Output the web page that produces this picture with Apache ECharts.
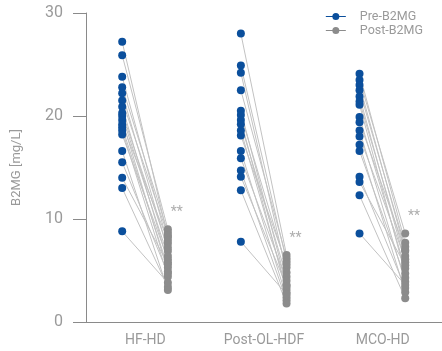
<!DOCTYPE html>
<html><head><meta charset="utf-8">
<script src="https://cdn.jsdelivr.net/npm/echarts@6/dist/echarts.min.js"></script>
<style>html,body{margin:0;padding:0;background:#fff}#c{width:442px;height:351px}</style>
</head><body><div id="c"></div>
<script>
const categories = ['HF-HD', 'Post-OL-HDF', 'MCO-HD'];
const yTicks = [0, 10, 20, 30];
const hfPre   = [27.2, 25.9, 23.8, 22.8, 22.2, 21.5, 20.9, 20.3, 20.0, 19.6, 19.2, 18.9, 18.6, 18.2, 16.6, 15.5, 14.0, 13.0, 8.8];
const hfPost  = [8.2, 9.0, 7.6, 8.7, 6.9, 8.4, 5.8, 7.2, 6.4, 4.9, 7.9, 5.3, 4.4, 6.1, 3.1, 4.7, 5.6, 3.4, 3.8];
const olPre   = [28.0, 24.9, 24.2, 22.5, 20.5, 20.1, 19.6, 19.2, 18.6, 18.1, 16.6, 15.9, 14.7, 14.1, 12.8, 7.8];
const olPost  = [6.5, 5.9, 4.8, 6.2, 3.6, 5.3, 2.9, 4.4, 3.2, 5.6, 2.4, 4.0, 2.1, 3.5, 1.8, 2.7];
const mcoPre  = [24.1, 23.5, 23.0, 22.5, 21.9, 21.4, 21.1, 19.9, 19.4, 18.6, 18.0, 17.2, 16.6, 14.1, 13.6, 12.3, 8.6];
const mcoPost = [7.7, 8.6, 6.9, 7.3, 5.8, 6.4, 4.7, 5.2, 7.0, 3.9, 6.1, 2.9, 4.3, 3.3, 5.5, 2.3, 3.6];
const significance = ['**', '**', '**'];

const groups = [[hfPre, hfPost], [olPre, olPost], [mcoPre, mcoPost]];
const PRE_OFF = -0.195, POST_OFF = 0.19;
const BLUE = '#0b4f9c', GRAY = '#8c8c8c', TXT = '#9a9a9a';

const prePts = [], postPts = [], links = [], stars = [];
groups.forEach(([pre, post], i) => {
  const c = i + 0.5;
  pre.forEach((v, k) => {
    prePts.push([c + PRE_OFF, v]);
    postPts.push([c + POST_OFF, post[k]]);
    links.push({coords: [[c + PRE_OFF, v], [c + POST_OFF, post[k]]]});
  });
  stars.push({value: [c + POST_OFF + 0.075, Math.max(...post) + 1.6], label: {formatter: significance[i]}});
});

const chart = echarts.init(document.getElementById('c'));
const ICON = 'path://M0,3.5H20V4.5H0Z M10,0.5A3.5,3.5 0 1,1 10,7.5A3.5,3.5 0 1,1 10,0.5Z';
chart.setOption({
  animation: false,
  textStyle: {fontFamily: 'Roboto'},
  grid: {left: 86, right: 0, top: 13, bottom: 29, containLabel: false},
  legend: {
    orient: 'vertical', right: 14, top: 5, itemWidth: 20, itemHeight: 8, itemGap: 1,
    textStyle: {color: TXT, fontSize: 12.5, padding: [0, 0, 0, 9]},
    data: [
      {name: 'Pre-B2MG', icon: ICON, itemStyle: {color: BLUE}},
      {name: 'Post-B2MG', icon: ICON, itemStyle: {color: GRAY}}
    ]
  },
  xAxis: [
    {type: 'category', data: categories, boundaryGap: true,
     axisLine: {lineStyle: {color: '#8a8a8a', width: 1}}, axisTick: {show: false},
     axisLabel: {color: TXT, fontSize: 14, margin: 11}},
    {type: 'value', min: 0, max: 3, show: false}
  ],
  yAxis: {
    type: 'value', min: 0, max: 30, interval: 10,
    name: 'B2MG [mg/L]', nameLocation: 'middle', nameGap: 63,
    nameTextStyle: {color: TXT, fontSize: 13},
    axisLine: {show: true, lineStyle: {color: '#8a8a8a', width: 1}},
    axisTick: {show: true, length: 13, lineStyle: {color: '#8a8a8a'}},
    axisLabel: {color: TXT, fontSize: 16, margin: 23, formatter: v => yTicks.includes(v) ? String(v) : ''},
    splitLine: {show: false}
  },
  series: [
    {type: 'lines', coordinateSystem: 'cartesian2d', xAxisIndex: 1, data: links, z: 1,
     lineStyle: {color: '#c2c2c2', width: 1, opacity: 1}, silent: true},
    {name: 'Post-B2MG', type: 'scatter', xAxisIndex: 1, data: postPts, symbolSize: 8, z: 3,
     itemStyle: {color: GRAY, opacity: 1}},
    {name: 'Pre-B2MG', type: 'scatter', xAxisIndex: 1, data: prePts, symbolSize: 8, z: 4,
     itemStyle: {color: BLUE, opacity: 1}},
    {type: 'scatter', xAxisIndex: 1, data: stars, symbolSize: 0, z: 5, silent: true,
     label: {show: true, position: 'inside', color: TXT, fontSize: 14}}
  ]
});
</script></body></html>
